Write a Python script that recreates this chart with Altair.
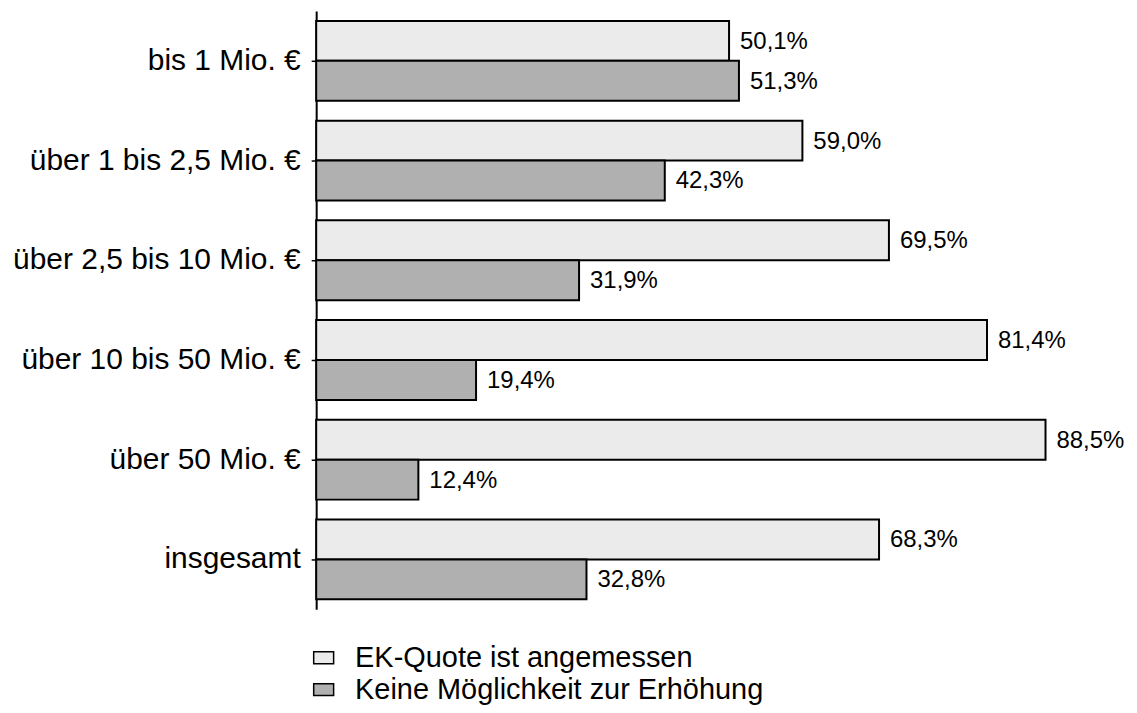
import altair as alt
import pandas as pd

categories = ["bis 1 Mio. €", "über 1 bis 2,5 Mio. €", "über 2,5 bis 10 Mio. €",
              "über 10 bis 50 Mio. €", "über 50 Mio. €", "insgesamt"]
series_names = ["EK-Quote ist angemessen", "Keine Möglichkeit zur Erhöhung"]
angemessen = [50.1, 59.0, 69.5, 81.4, 88.5, 68.3]
keine = [51.3, 42.3, 31.9, 19.4, 12.4, 32.8]
colors = ["#ebebeb", "#b0b0b0"]

rows = []
for c, a, k in zip(categories, angemessen, keine):
    rows.append({"cat": c, "series": series_names[0], "value": a})
    rows.append({"cat": c, "series": series_names[1], "value": k})
df = pd.DataFrame(rows)
df["label"] = df["value"].map(lambda v: f"{v:.1f}".replace(".", ",") + "%")

FONT = "Liberation Sans"

y_enc = alt.Y("cat:N", sort=categories, title=None,
              scale=alt.Scale(paddingInner=0.2, paddingOuter=0.1),
              axis=alt.Axis(domainColor="black", domainWidth=2, tickColor="black",
                            tickWidth=1.5, tickSize=5, labelPadding=11,
                            labelFontSize=30, labelFont=FONT, labelColor="black",
                            labelLimit=400, grid=False))
yoff = alt.YOffset("series:N", sort=series_names)
x_enc = alt.X("value:Q", scale=alt.Scale(domain=[0, 95]), axis=None)

bars = alt.Chart(df).mark_bar(stroke="black", strokeWidth=2).encode(
    x=x_enc, y=y_enc, yOffset=yoff,
    color=alt.Color("series:N", sort=series_names,
                    scale=alt.Scale(domain=series_names, range=colors),
                    legend=alt.Legend(title=None, orient="none", legendX=-7, legendY=634,
                                      direction="vertical",
                                      symbolType="M-1,-0.6L1,-0.6L1,0.6L-1,0.6Z",
                                      symbolSize=400, symbolStrokeColor="black",
                                      symbolStrokeWidth=1.5, labelFontSize=29,
                                      labelFont=FONT, labelColor="black",
                                      labelLimit=600, rowPadding=2, symbolOffset=0,
                                      labelOffset=17)),
)

texts = alt.Chart(df).mark_text(align="left", baseline="middle", dx=11, dy=1,
                                fontSize=24, font=FONT, color="black").encode(
    x=x_enc, y=alt.Y("cat:N", sort=categories), yOffset=yoff, text="label:N"
)

chart = alt.layer(bars, texts).properties(
    width=785, height=600,
    autosize=alt.AutoSizeParams(type="none"),
    padding={"left": 309, "top": 2, "right": 30, "bottom": 100},
).configure_view(stroke=None)

chart.save("out.html", embed_options={"renderer": "svg", "actions": False})
